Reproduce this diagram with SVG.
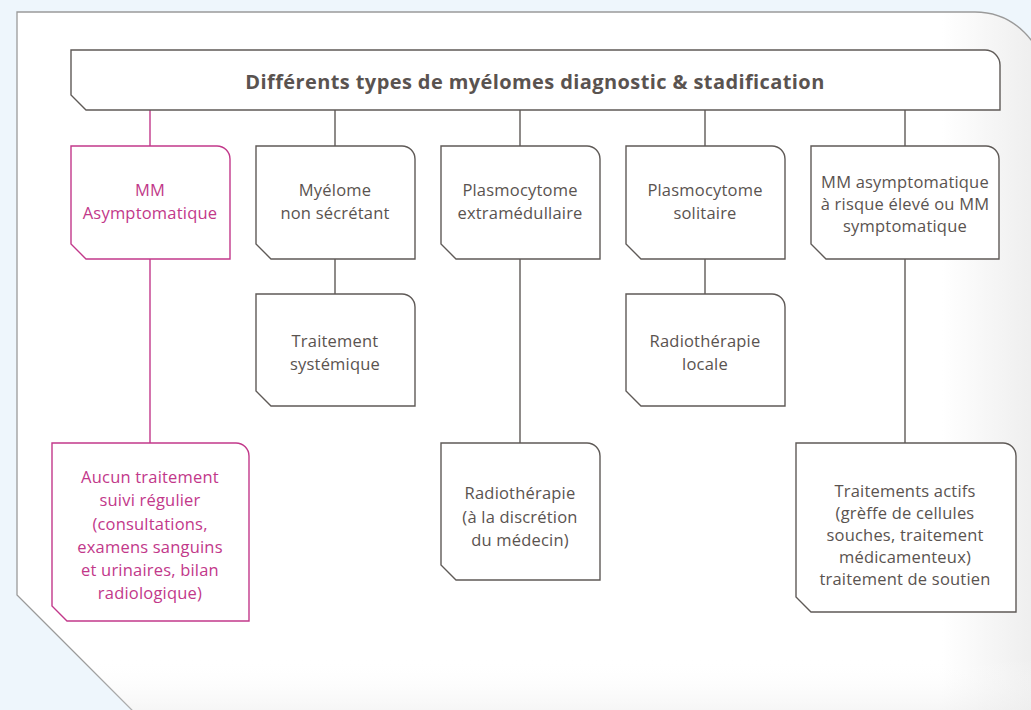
<svg xmlns="http://www.w3.org/2000/svg" width="1031" height="710" viewBox="0 0 1031 710">
<defs>
<linearGradient id="shade" x1="0" y1="0" x2="1" y2="0">
<stop offset="0.9" stop-color="#ffffff"/>
<stop offset="1" stop-color="#ececec"/>
</linearGradient>
<linearGradient id="shadeB" x1="0" y1="0" x2="0" y2="1">
<stop offset="0.9" stop-color="#ffffff" stop-opacity="0"/>
<stop offset="1" stop-color="#e6e6e6" stop-opacity="0.7"/>
</linearGradient>
<style>
.box{fill:#ffffff;stroke:#5f5a57;stroke-width:1.4}
.boxm{fill:#ffffff;stroke:#c2388a;stroke-width:1.4}
.t{font-family:"Open Sans","Liberation Sans",sans-serif;font-size:16.5px;letter-spacing:0.2px;fill:#5a5350;text-anchor:middle}
.tm{font-family:"Open Sans","Liberation Sans",sans-serif;font-size:16.5px;letter-spacing:0.2px;fill:#c2388a;text-anchor:middle}
.title{font-family:"Open Sans","Liberation Sans",sans-serif;font-size:20px;letter-spacing:0.4px;font-weight:bold;fill:#5a5350;text-anchor:middle}
.c{stroke:#5f5a57;stroke-width:1.4;fill:none}
.cm{stroke:#c2388a;stroke-width:1.4;fill:none}
</style>
</defs>
<rect x="0" y="0" width="1031" height="710" fill="#eef6fc"/>
<g id="panel">
<path d="M17,12 H975 A70,70 0 0 1 1045,82 V730 H152 L17,595 Z" fill="url(#shade)" stroke="#9a9a9a" stroke-width="1.3"/>
<path d="M17,12 H975 A70,70 0 0 1 1045,82 V730 H152 L17,595 Z" fill="url(#shadeB)" stroke="none"/>
</g>
<g id="connectors">
<line class="cm" x1="150" y1="110" x2="150" y2="146"/>
<line class="c" x1="335" y1="110" x2="335" y2="146"/>
<line class="c" x1="520" y1="110" x2="520" y2="146"/>
<line class="c" x1="705" y1="110" x2="705" y2="146"/>
<line class="c" x1="905" y1="110" x2="905" y2="146"/>
<line class="cm" x1="150" y1="259" x2="150" y2="443"/>
<line class="c" x1="335" y1="259" x2="335" y2="294"/>
<line class="c" x1="520" y1="259" x2="520" y2="443"/>
<line class="c" x1="705" y1="259" x2="705" y2="294"/>
<line class="c" x1="905" y1="259" x2="905" y2="443"/>
</g>
<g id="title">
<path class="box" d="M71,50 H985 A15,15 0 0 1 1000,65 V110 H86 L71,95 Z"/>
<text class="title" x="535" y="89">Différents types de myélomes diagnostic &amp; stadification</text>
</g>
<g id="n1">
<path class="boxm" d="M71,146 H217 A13,13 0 0 1 230,159 V259 H86 L71,244 Z"/>
<text class="tm" x="150" y="196">MM</text>
<text class="tm" x="150" y="219">Asymptomatique</text>
</g>
<g id="n2">
<path class="box" d="M256,146 H402 A13,13 0 0 1 415,159 V259 H271 L256,244 Z"/>
<text class="t" x="335" y="196">Myélome</text>
<text class="t" x="335" y="219">non sécrétant</text>
</g>
<g id="n3">
<path class="box" d="M441,146 H587 A13,13 0 0 1 600,159 V259 H456 L441,244 Z"/>
<text class="t" x="520" y="196">Plasmocytome</text>
<text class="t" x="520" y="219">extramédullaire</text>
</g>
<g id="n4">
<path class="box" d="M626,146 H772 A13,13 0 0 1 785,159 V259 H641 L626,244 Z"/>
<text class="t" x="705" y="196">Plasmocytome</text>
<text class="t" x="705" y="219">solitaire</text>
</g>
<g id="n5">
<path class="box" d="M811,146 H986 A13,13 0 0 1 999,159 V259 H826 L811,244 Z"/>
<text class="t" x="905" y="188">MM asymptomatique</text>
<text class="t" x="905" y="210">à risque élevé ou MM</text>
<text class="t" x="905" y="232">symptomatique</text>
</g>
<g id="n6">
<path class="box" d="M256,294 H402 A13,13 0 0 1 415,307 V406 H271 L256,391 Z"/>
<text class="t" x="335" y="347">Traitement</text>
<text class="t" x="335" y="370">systémique</text>
</g>
<g id="n7">
<path class="box" d="M626,294 H772 A13,13 0 0 1 785,307 V406 H641 L626,391 Z"/>
<text class="t" x="705" y="347">Radiothérapie</text>
<text class="t" x="705" y="370">locale</text>
</g>
<g id="n8">
<path class="boxm" d="M52,443 H236 A13,13 0 0 1 249,456 V621 H67 L52,606 Z"/>
<text class="tm" x="150" y="483">Aucun traitement</text>
<text class="tm" x="150" y="506">suivi régulier</text>
<text class="tm" x="150" y="530">(consultations,</text>
<text class="tm" x="150" y="553">examens sanguins</text>
<text class="tm" x="150" y="576">et urinaires, bilan</text>
<text class="tm" x="150" y="599">radiologique)</text>
</g>
<g id="n9">
<path class="box" d="M441,443 H587 A13,13 0 0 1 600,456 V580 H456 L441,565 Z"/>
<text class="t" x="520" y="499">Radiothérapie</text>
<text class="t" x="520" y="523">(à la discrétion</text>
<text class="t" x="520" y="546">du médecin)</text>
</g>
<g id="n10">
<path class="box" d="M796,443 H1003 A13,13 0 0 1 1016,456 V612 H811 L796,597 Z"/>
<text class="t" x="905" y="497">Traitements actifs</text>
<text class="t" x="905" y="519">(grèffe de cellules</text>
<text class="t" x="905" y="541">souches, traitement</text>
<text class="t" x="905" y="563">médicamenteux)</text>
<text class="t" x="905" y="585">traitement de soutien</text>
</g>
</svg>
